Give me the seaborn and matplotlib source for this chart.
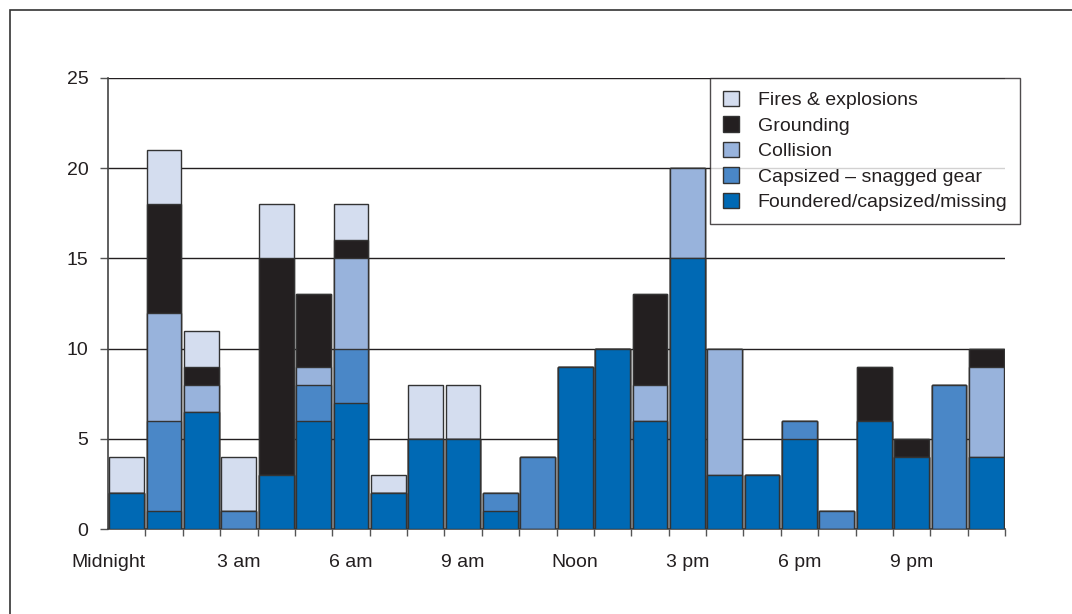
import numpy as np
import pandas as pd
import matplotlib
matplotlib.use("Agg")
import matplotlib.pyplot as plt
import seaborn as sns
from matplotlib.patches import Patch, Rectangle

hours = list(range(24))
foundered = [2, 1, 6.5, 0, 3, 6, 7, 2, 5, 5, 1, 0, 9, 10, 6, 15, 3, 3, 5, 0, 6, 4, 0, 4]
capsized = [0, 5, 0, 1, 0, 2, 3, 0, 0, 0, 1, 4, 0, 0, 0, 0, 0, 0, 1, 1, 0, 0, 8, 0]
collision = [0, 6, 1.5, 0, 0, 1, 5, 0, 0, 0, 0, 0, 0, 0, 2, 5, 7, 0, 0, 0, 0, 0, 0, 5]
grounding = [0, 6, 1, 0, 12, 4, 1, 0, 0, 0, 0, 0, 0, 0, 5, 0, 0, 0, 0, 0, 3, 1, 0, 1]
fires = [2, 3, 2, 3, 3, 0, 2, 1, 3, 3, 0, 0, 0, 0, 0, 0, 0, 0, 0, 0, 0, 0, 0, 0]

series_names = ["Foundered/capsized/missing", "Capsized \u2013 snagged gear",
                "Collision", "Grounding", "Fires & explosions"]
series_vals = [foundered, capsized, collision, grounding, fires]
colors = ["#0069b4", "#4a87c7", "#98b3dc", "#231f20", "#d4ddef"]

tick_pos = [-0.5, 3, 6, 9, 12, 15, 18, 21]
tick_labels = ["Midnight", "3 am", "6 am", "9 am", "Noon", "3 pm", "6 pm", "9 pm"]

sns.set_style("white")
plt.rcParams['font.family'] = ['Liberation Sans', 'DejaVu Sans']

fig = plt.figure(figsize=(10.72, 6.14), dpi=100)
ax = fig.add_axes([108/1072, 85/614, (1005-108)/1072, (529-78)/614])

cum = np.cumsum(np.array(series_vals, dtype=float), axis=0)
for i in range(len(series_names) - 1, -1, -1):
    df = pd.DataFrame({"hour": hours, "value": cum[i]})
    sns.barplot(data=df, x="hour", y="value", color=colors[i], saturation=1,
                width=0.93, edgecolor="#333333", linewidth=1.0, ax=ax, zorder=3)

ax.set_xlim(-0.5, 23.5)
ax.set_ylim(0, 25)
ax.set_yticks([0, 5, 10, 15, 20, 25])
ax.set_yticklabels(["0", "5", "10", "15", "20", "25"], fontsize=14, color="#231f20")
ax.yaxis.grid(True, color="#231f20", linewidth=1.0, zorder=0)
ax.set_axisbelow(True)
ax.set_xticks(tick_pos)
ax.set_xticklabels(tick_labels, fontsize=14, color="#231f20")
ax.set_xticks(np.arange(-0.5, 24, 1), minor=True)
ax.tick_params(axis="x", which="major", length=0, pad=18)
ax.tick_params(axis="x", which="minor", length=5, width=1, color="#555555", direction="out", bottom=True)
ax.tick_params(axis="y", length=6, width=1, color="#555555", direction="out", left=True, pad=8)
ax.set_xlabel("")
ax.set_ylabel("")
for s in ["top", "right"]:
    ax.spines[s].set_visible(False)
for s in ["left", "bottom"]:
    ax.spines[s].set_color("#444444")
    ax.spines[s].set_linewidth(1.2)

handles = [Patch(facecolor=colors[i], edgecolor="#333333", linewidth=1.0, label=series_names[i])
           for i in range(len(series_names) - 1, -1, -1)]
leg = ax.legend(handles=handles, loc="upper left", bbox_to_anchor=((710-108)/(1005-108), 1.0),
                fontsize=14, frameon=True, fancybox=False, handlelength=0.85, handleheight=0.85,
                handletextpad=0.95, labelspacing=0.36, borderpad=0.65, borderaxespad=0)
leg.get_frame().set_edgecolor("#231f20")
leg.get_frame().set_linewidth(1.0)
for t in leg.get_texts():
    t.set_color("#231f20")
leg.set_zorder(5)

fig.patches.append(Rectangle((10/1072, -0.1), 1.2, (614-10)/614 + 0.1, transform=fig.transFigure,
                             fill=False, edgecolor="#333333", linewidth=1.2))

fig.savefig("out.png", dpi=100)
